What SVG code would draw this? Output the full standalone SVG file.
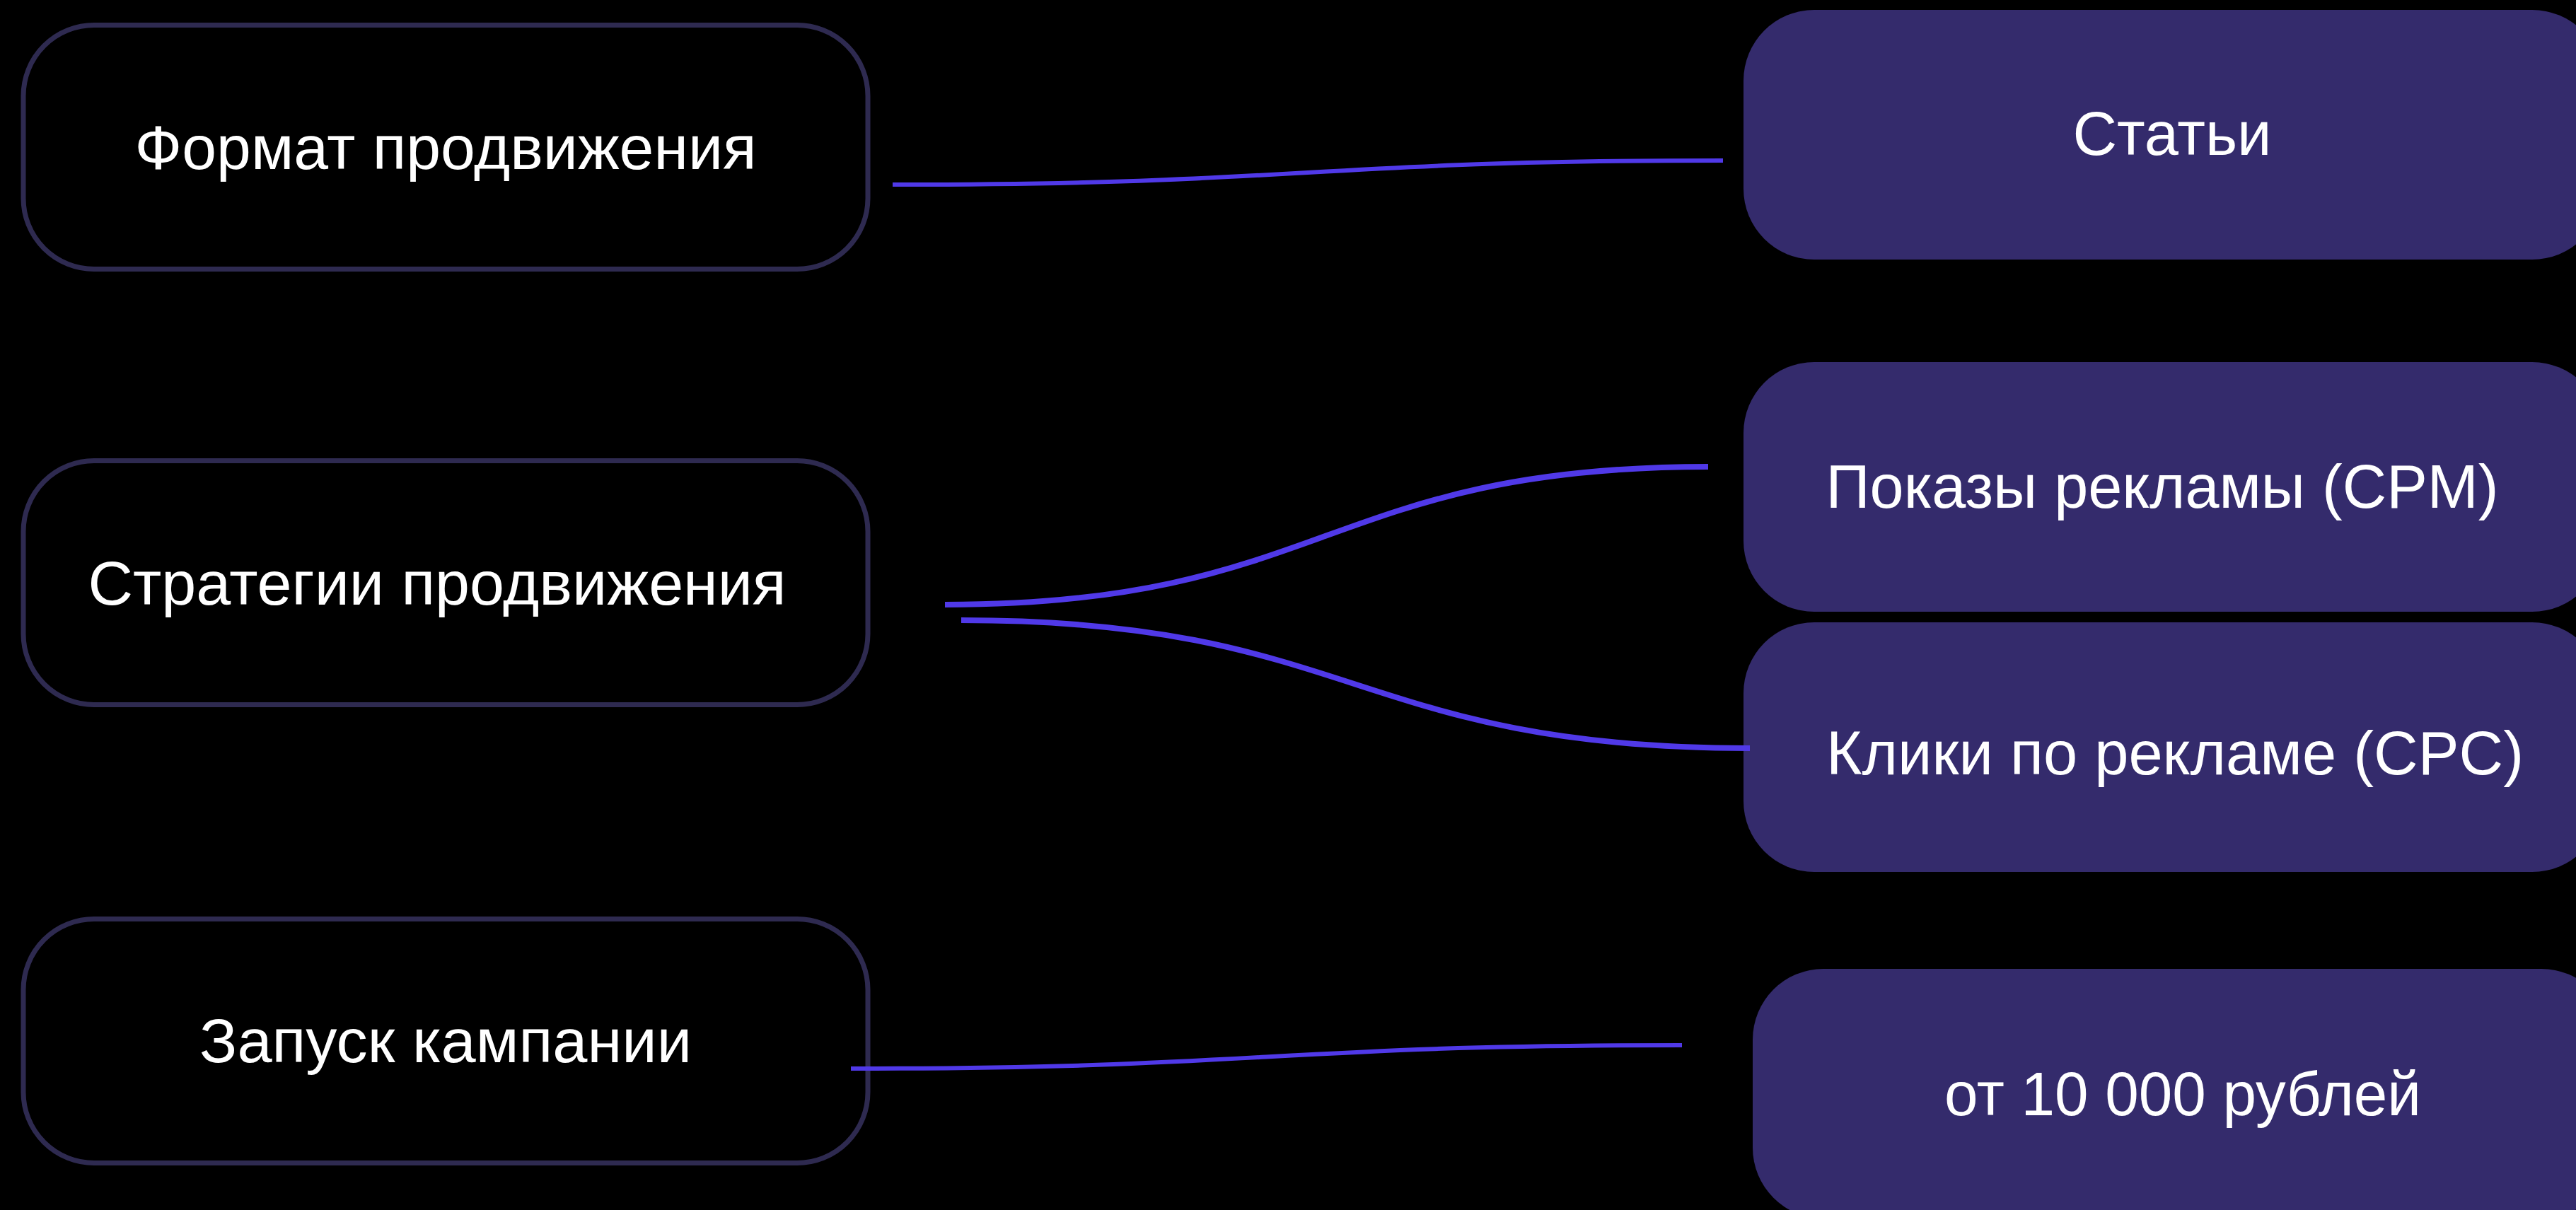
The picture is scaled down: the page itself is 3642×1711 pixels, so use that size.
<svg xmlns="http://www.w3.org/2000/svg" width="3642" height="1711" viewBox="0 0 3642 1711">
<style>
.src{fill:#000000;stroke:#2e2a50;stroke-width:7}
.dst{fill:#342b6c;stroke:none}
.lbl{font-family:"Liberation Sans",Arial,Helvetica,sans-serif;font-size:87px;fill:#ffffff;text-anchor:middle}
.edge{fill:none;stroke:#5039e8;stroke-linecap:butt}
</style>
<rect width="3642" height="1711" fill="#000000"/>
<g id="node-format">
<rect class="src" x="33" y="35.5" width="1194" height="345" rx="100" ry="100"/>
<text class="lbl" x="630" y="239" textLength="879" lengthAdjust="spacingAndGlyphs">Формат продвижения</text>
</g>
<g id="node-strategy">
<rect class="src" x="33" y="651.5" width="1194" height="345" rx="100" ry="100"/>
<text class="lbl" x="618" y="855" textLength="987" lengthAdjust="spacingAndGlyphs">Стратегии продвижения</text>
</g>
<g id="node-launch">
<rect class="src" x="33" y="1299.5" width="1194" height="345" rx="100" ry="100"/>
<text class="lbl" x="630" y="1502" textLength="696" lengthAdjust="spacingAndGlyphs">Запуск кампании</text>
</g>
<g id="node-articles">
<rect class="dst" x="2465" y="14" width="1215" height="353" rx="100" ry="100"/>
<text class="lbl" x="3071" y="219" textLength="281" lengthAdjust="spacingAndGlyphs">Статьи</text>
</g>
<g id="node-cpm">
<rect class="dst" x="2465" y="512" width="1215" height="353" rx="100" ry="100"/>
<text class="lbl" x="3057" y="718" textLength="951" lengthAdjust="spacingAndGlyphs">Показы рекламы (CPM)</text>
</g>
<g id="node-cpc">
<rect class="dst" x="2465" y="880" width="1215" height="353" rx="100" ry="100"/>
<text class="lbl" x="3075" y="1095" textLength="986" lengthAdjust="spacingAndGlyphs">Клики по рекламе (CPC)</text>
</g>
<g id="node-price">
<rect class="dst" x="2478" y="1370" width="1215" height="353" rx="100" ry="100"/>
<text class="lbl" x="3086" y="1577" textLength="674" lengthAdjust="spacingAndGlyphs">от 10 000 рублей</text>
</g>
<g id="connectors">
<path class="edge" stroke-width="6" d="M1262 261 C1849 261 1849 227 2436 227"/>
<path class="edge" stroke-width="8" d="M1336 855 C1875 855 1875 660 2415 660"/>
<path class="edge" stroke-width="8" d="M1359 877 C1916 877 1916 1058 2474 1058"/>
<path class="edge" stroke-width="6" d="M1203 1511 C1790 1511 1790 1478 2378 1478"/>
</g>
</svg>
